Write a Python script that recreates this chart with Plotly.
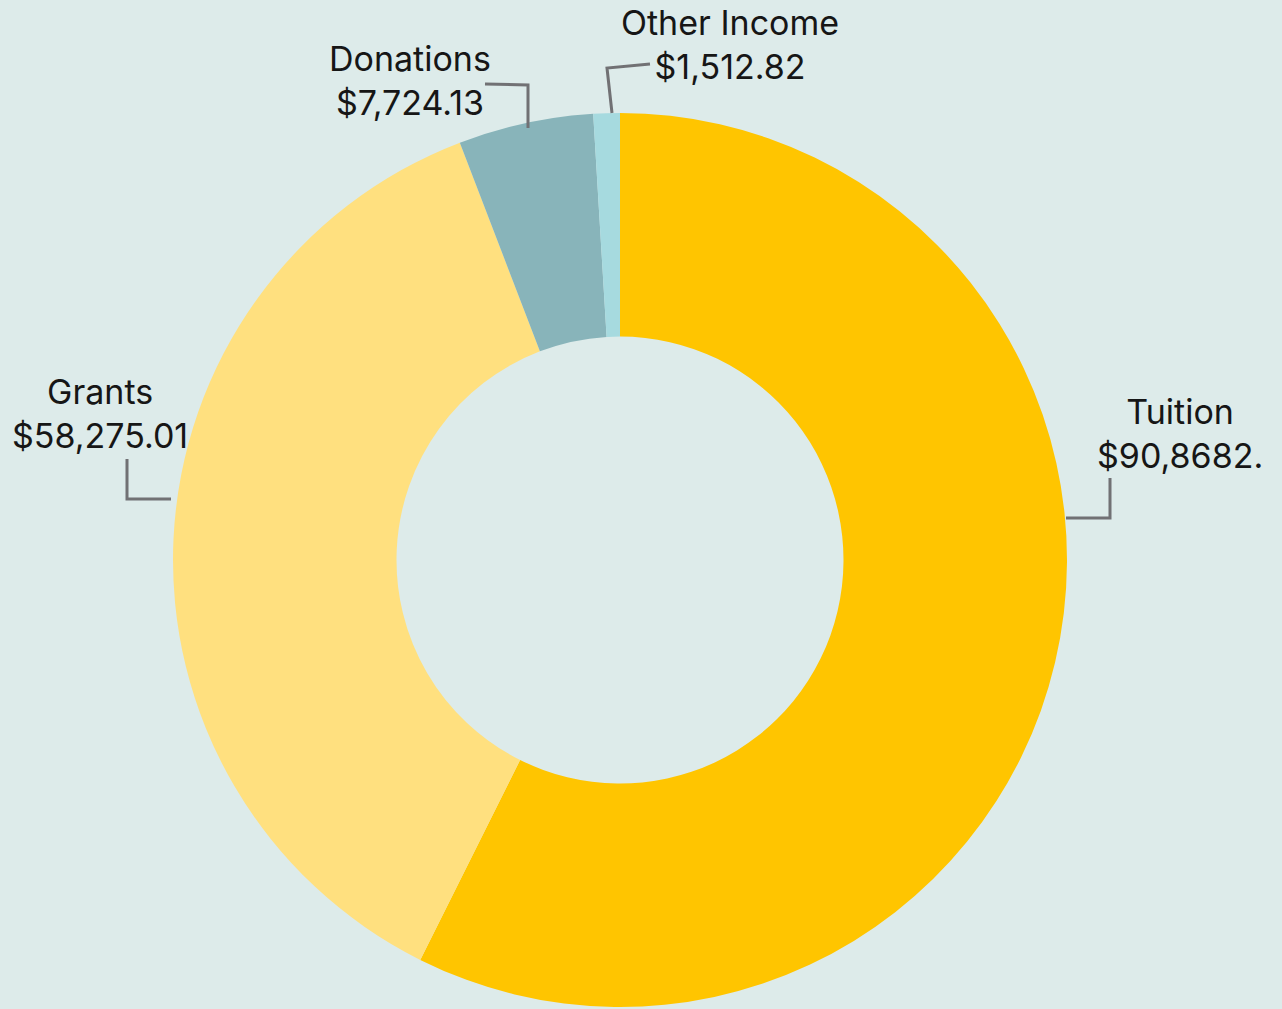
import plotly.graph_objects as go

categories = ["Tuition", "Grants", "Donations", "Other Income"]
values = [90868.2, 58275.01, 7724.13, 1512.82]
value_labels = ["$90,8682.", "$58,275.01", "$7,724.13", "$1,512.82"]
colors = ["#FFC500", "#FFE07F", "#88B4BA", "#A6DADF"]

W, H = 1282, 1009
BG = "#DDEBEA"
LINE = "#717174"


def px(x):
    return x / W


def py(y):
    return 1 - y / H


fig = go.Figure(
    go.Pie(
        labels=categories,
        values=values,
        hole=0.5,
        sort=False,
        direction="clockwise",
        rotation=0,
        marker=dict(colors=colors, line=dict(width=0)),
        textinfo="none",
        hoverinfo="label+value",
        showlegend=False,
        domain=dict(x=[px(173), px(1067)], y=[py(1007), py(113)]),
    )
)

# label positions (center x, center y of two-line block) and leader lines
label_pos = [(1180, 433), (100, 413), (410, 80), (730, 44)]
leaders = [
    [(1066, 518), (1110, 518), (1110, 478)],
    [(171, 499), (127, 499), (127, 459)],
    [(528, 128), (528, 85), (485, 84)],
    [(612, 113), (607, 68), (650, 64)],
]

annotations = []
for cat, vl, (cx, cy) in zip(categories, value_labels, label_pos):
    annotations.append(
        dict(
            x=px(cx), y=py(cy), xref="paper", yref="paper",
            text=f"{cat}<br>{vl}", showarrow=False,
            xanchor="center", yanchor="middle", align="center",
            font=dict(family="Inter", size=34, color="#161616"),
        )
    )

shapes = []
for pts in leaders:
    path = "M " + " L ".join(f"{px(x)},{py(y)}" for x, y in pts)
    shapes.append(
        dict(type="path", path=path, xref="paper", yref="paper",
             line=dict(color=LINE, width=3))
    )

fig.update_layout(
    width=W, height=H,
    margin=dict(l=0, r=0, t=0, b=0),
    paper_bgcolor=BG, plot_bgcolor=BG,
    annotations=annotations, shapes=shapes,
)

fig.write_html(
    "out.html",
    config={"displayModeBar": False},
    post_script="document.body.style.margin='0';document.body.style.overflow='hidden';",
)
